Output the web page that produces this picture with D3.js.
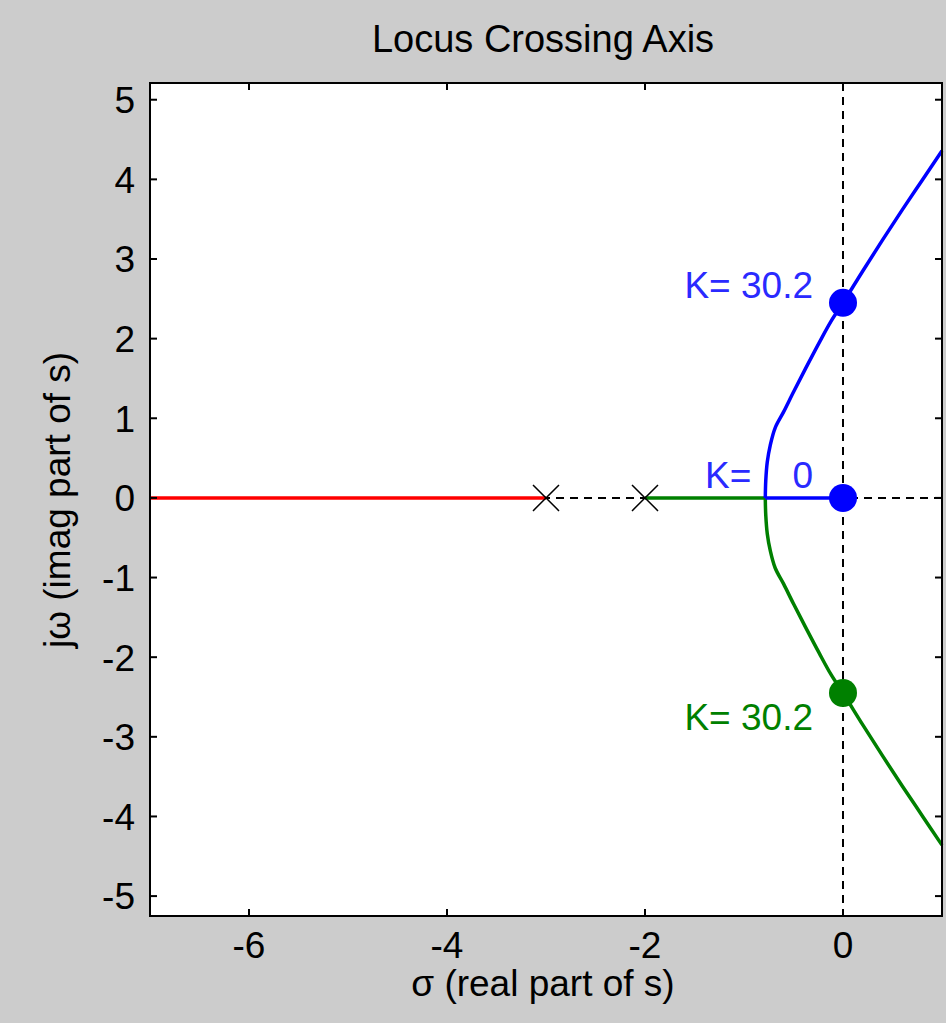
<!DOCTYPE html>
<html>
<head>
<meta charset="utf-8">
<script src="https://cdn.jsdelivr.net/npm/d3@7"></script>
<style>
  body { margin: 0; background: #cccccc; }
  text { font-family: "Liberation Sans", Arial, sans-serif; }
</style>
</head>
<body>
<div id="main"></div>
<script>
const ctx = {
    w: 946,
    h: 1023,
    left: 150,
    right: 942,
    top: 83,
    bottom: 916
};

// axis ranges / ticks
const xDomain = [-7, 1];
const yDomain = [-5.25, 5.21];
const xTicks = [-6, -4, -2, 0];
const yTicks = [-5, -4, -3, -2, -1, 0, 1, 2, 3, 4, 5];

// open loop poles (X markers)
const poles = [0, -2, -3];

// branches, [sigma, omega]
const redBranch = [[-3, 0], [-7, 0]];
const blueReal = [[0, 0], [-0.785, 0]];
const blueBranch = [[-0.785, 0], [-0.78, 0.22], [-0.765, 0.45], [-0.735, 0.66], [-0.685, 0.88],
    [-0.6, 1.08], [-0.5, 1.33], [-0.38, 1.62], [-0.24, 1.95], [-0.12, 2.22], [0, 2.45],
    [0.2, 2.85], [0.4, 3.24], [0.6, 3.62], [0.8, 3.99], [1.0, 4.36]];
const greenReal = [[-2, 0], [-0.785, 0]];
const greenBranch = [[-0.785, 0], [-0.78, -0.22], [-0.765, -0.45], [-0.735, -0.66], [-0.685, -0.88],
    [-0.6, -1.08], [-0.5, -1.33], [-0.38, -1.62], [-0.24, -1.95], [-0.12, -2.22], [0, -2.45],
    [0.2, -2.85], [0.4, -3.24], [0.6, -3.62], [0.8, -3.99], [1.0, -4.36]];

// highlighted gain points
const gainPoints = [[0, 2.45], [0, 0], [0, -2.45]];
const gainLabels = ["K= 30.2", "K=    0", "K= 30.2"];
const gainColors = ["#0000ff", "#0000ff", "#008000"];

//==============================================================================================
function drawLocus(svg) {
    const x = d3.scaleLinear().domain(xDomain).range([ctx.left, ctx.right]);
    const y = d3.scaleLinear().domain(yDomain).range([ctx.bottom, ctx.top]);

    svg.append("rect")
        .attr("x", ctx.left).attr("y", ctx.top)
        .attr("width", ctx.right - ctx.left).attr("height", ctx.bottom - ctx.top)
        .attr("fill", "white");

    const plotG = svg.append("g");

    // dashed axes through origin
    plotG.append("line")
        .attr("x1", x(xDomain[0])).attr("x2", x(xDomain[1]))
        .attr("y1", y(0)).attr("y2", y(0))
        .attr("stroke", "black").attr("stroke-width", 2)
        .attr("stroke-dasharray", "8,6");
    plotG.append("line")
        .attr("x1", x(0)).attr("x2", x(0))
        .attr("y1", y(yDomain[1])).attr("y2", y(yDomain[0]))
        .attr("stroke", "black").attr("stroke-width", 2)
        .attr("stroke-dasharray", "8,6");

    const straight = d3.line().x(d => x(d[0])).y(d => y(d[1]));
    const smooth = d3.line().x(d => x(d[0])).y(d => y(d[1])).curve(d3.curveCatmullRom.alpha(0.5));

    [[redBranch, "#ff0000", straight], [greenReal, "#008000", straight], [greenBranch, "#008000", smooth],
     [blueReal, "#0000ff", straight], [blueBranch, "#0000ff", smooth]].forEach(b => {
        plotG.append("path")
            .datum(b[0])
            .attr("d", b[2])
            .attr("fill", "none")
            .attr("stroke", b[1])
            .attr("stroke-width", 3.5)
            .attr("stroke-linejoin", "round");
    });

    // pole markers (the one under a gain dot stays hidden)
    const m = 13;
    poles.filter(p => !gainPoints.some(g => g[0] == p && g[1] == 0)).forEach(p => {
        plotG.append("path")
            .attr("d", `M${x(p) - m},${y(0) - m}L${x(p) + m},${y(0) + m}M${x(p) - m},${y(0) + m}L${x(p) + m},${y(0) - m}`)
            .attr("stroke", "black").attr("stroke-width", 1.5).attr("fill", "none");
    });

    // gain dots
    plotG.selectAll("circle.gain")
        .data(gainPoints)
        .enter().append("circle")
        .attr("cx", d => x(d[0]))
        .attr("cy", d => y(d[1]))
        .attr("r", 14)
        .attr("fill", (d, i) => gainColors[i]);

    const labelDy = [-5, -10, 37];
    plotG.selectAll("text.gain")
        .data(gainPoints)
        .enter().append("text")
        .attr("x", d => x(d[0]) - 30)
        .attr("y", (d, i) => y(d[1]) + labelDy[i])
        .attr("text-anchor", "end")
        .attr("font-size", 37)
        .style("white-space", "pre")
        .attr("fill", (d, i) => gainColors[i] == "#0000ff" ? "#2a2aff" : gainColors[i])
        .text((d, i) => gainLabels[i]);

    // frame
    svg.append("rect")
        .attr("x", ctx.left).attr("y", ctx.top)
        .attr("width", ctx.right - ctx.left).attr("height", ctx.bottom - ctx.top)
        .attr("fill", "none").attr("stroke", "black").attr("stroke-width", 2);

    // ticks inside on all four sides
    const tl = 7;
    xTicks.forEach(t => {
        svg.append("line").attr("x1", x(t)).attr("x2", x(t)).attr("y1", ctx.bottom).attr("y2", ctx.bottom - tl)
            .attr("stroke", "black").attr("stroke-width", 2);
        svg.append("line").attr("x1", x(t)).attr("x2", x(t)).attr("y1", ctx.top).attr("y2", ctx.top + tl)
            .attr("stroke", "black").attr("stroke-width", 2);
    });
    yTicks.forEach(t => {
        svg.append("line").attr("x1", ctx.left).attr("x2", ctx.left + tl).attr("y1", y(t)).attr("y2", y(t))
            .attr("stroke", "black").attr("stroke-width", 2);
        svg.append("line").attr("x1", ctx.right).attr("x2", ctx.right - tl).attr("y1", y(t)).attr("y2", y(t))
            .attr("stroke", "black").attr("stroke-width", 2);
    });

    // tick labels
    svg.selectAll("text.xt")
        .data(xTicks)
        .enter().append("text")
        .attr("x", d => x(d))
        .attr("y", 958)
        .attr("text-anchor", "middle")
        .attr("font-size", 37)
        .text(d => d);
    svg.selectAll("text.yt")
        .data(yTicks)
        .enter().append("text")
        .attr("x", 135)
        .attr("y", d => y(d))
        .attr("dy", "0.36em")
        .attr("text-anchor", "end")
        .attr("font-size", 37)
        .text(d => d);

    // titles
    svg.append("text")
        .attr("x", 543).attr("y", 52)
        .attr("text-anchor", "middle")
        .attr("font-size", 38)
        .text("Locus Crossing Axis");
    svg.append("text")
        .attr("x", 543).attr("y", 996)
        .attr("text-anchor", "middle")
        .attr("font-size", 37)
        .text("σ (real part of s)");
    svg.append("text")
        .attr("transform", "translate(70,500) rotate(-90)")
        .attr("text-anchor", "middle")
        .attr("font-size", 37)
        .text("jω (imag part of s)");
}

function createViz() {
    const svgEl = d3.select("#main").append("svg")
        .attr("width", ctx.w)
        .attr("height", ctx.h)
        .style("display", "block");
    svgEl.append("rect").attr("width", ctx.w).attr("height", ctx.h).attr("fill", "#cccccc");
    drawLocus(svgEl);
}

createViz();
</script>
</body>
</html>
